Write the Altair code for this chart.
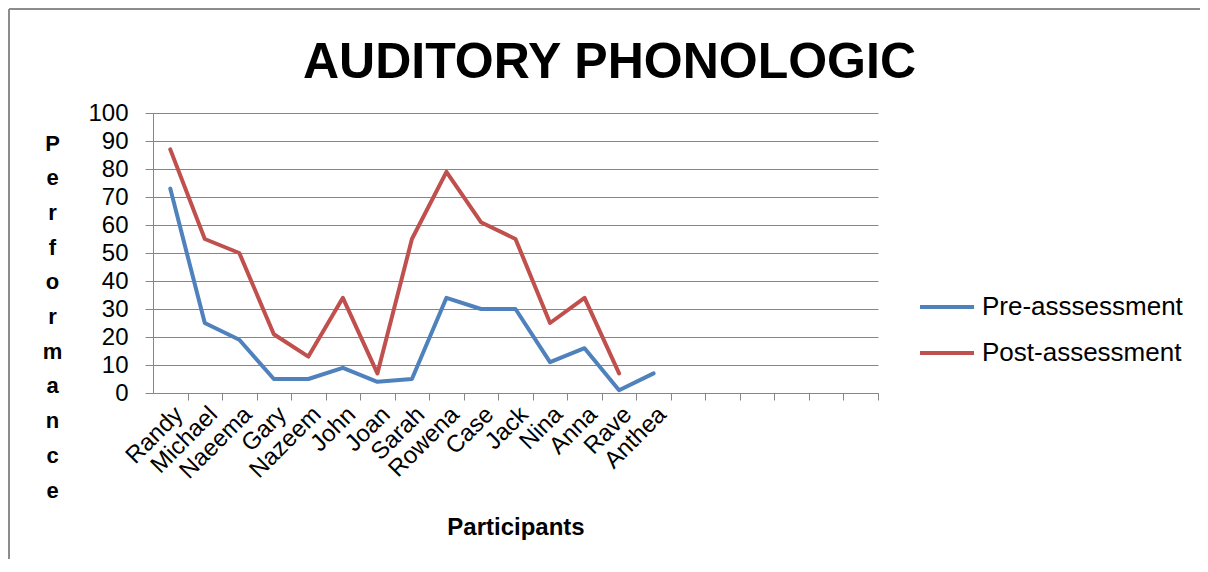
import altair as alt
import pandas as pd

participants = ["Randy", "Michael", "Naeema", "Gary", "Nazeem", "John", "Joan", "Sarah",
                "Rowena", "Case", "Jack", "Nina", "Anna", "Rave", "Anthea"]
empty_slots = ["_1", "_2", "_3", "_4", "_5", "_6"]
pre = [73, 25, 19, 5, 5, 9, 4, 5, 34, 30, 30, 11, 16, 1, 7]
post = [87, 55, 50, 21, 13, 34, 7, 55, 79, 61, 55, 25, 34, 7, None]
series_names = ["Pre-asssessment", "Post-assessment"]
series_colors = ["#4F81BD", "#C0504D"]
y_letters = list("Performance")

rows = []
for name, v in zip(participants, pre):
    rows.append({"participant": name, "series": series_names[0], "value": v})
for name, v in zip(participants, post):
    if v is not None:
        rows.append({"participant": name, "series": series_names[1], "value": v})
df = pd.DataFrame(rows)

domain = participants + empty_slots
FONT = "Liberation Sans"
W, H = 725, 280
PAD = {"left": 145, "top": 105, "right": 322, "bottom": 166}
step = W / len(domain)

lines = alt.Chart(df).mark_line(strokeWidth=4, strokeJoin="round", strokeCap="round").encode(
    x=alt.X("participant:N", sort=domain,
            scale=alt.Scale(domain=domain),
            axis=alt.Axis(title="Participants", labelAngle=-45, labelFontSize=24,
                          labelExpr="indexof(datum.value, '_') == 0 ? '' : datum.value",
                          tickSize=7, tickOffset=step / 2, labelOffset=-step / 2,
                          grid=False, labelPadding=2,
                          titleFontSize=24, titleFontWeight="bold",
                          titleX=W / 2, titleY=134, titleBaseline="middle")),
    y=alt.Y("value:Q", scale=alt.Scale(domain=[0, 100], nice=False),
            axis=alt.Axis(values=list(range(0, 101, 10)), title=y_letters,
                          titleAngle=0, titleLineHeight=34.7, titleFontSize=22,
                          titleFontWeight="bold", titleX=-101, titleY=30,
                          titleAlign="center", titleBaseline="middle",
                          labelFontSize=24, tickSize=8, labelPadding=17,
                          grid=True)),
    color=alt.Color("series:N", sort=series_names,
                    scale=alt.Scale(domain=series_names, range=series_colors),
                    legend=alt.Legend(title=None, orient="none", legendX=765, legendY=165,
                                      symbolType="stroke", symbolSize=2916,
                                      symbolStrokeWidth=4, labelFontSize=26,
                                      labelLimit=400, rowPadding=4, labelOffset=6,
                                      padding=0, labelFont=FONT))
)

frame_df = pd.DataFrame({"k": [0]})
top_edge = alt.Chart(frame_df).mark_rule(stroke="#8c8c8c", strokeWidth=2).encode(
    x=alt.value(-PAD["left"] + 1), x2=alt.value(W + PAD["right"]),
    y=alt.value(-PAD["top"] + 1),
)
left_edge = alt.Chart(frame_df).mark_rule(stroke="#8c8c8c", strokeWidth=2).encode(
    x=alt.value(-PAD["left"] + 1),
    y=alt.value(-PAD["top"] + 1), y2=alt.value(H + PAD["bottom"]),
)

chart = alt.layer(top_edge, left_edge, lines).properties(
    width=W, height=H,
    title=alt.TitleParams("AUDITORY PHONOLOGIC", fontSize=50, font=FONT,
                          fontWeight="bold", anchor="middle", frame="group",
                          dx=94, baseline="alphabetic", offset=-120, color="black"),
    autosize=alt.AutoSizeParams(type="none"),
    padding=PAD,
).configure_axis(
    labelFont=FONT, titleFont=FONT, labelColor="black", titleColor="black",
    domainColor="#868686", tickColor="#868686", gridColor="#868686",
).configure_view(stroke=None).configure_legend(labelColor="black")

chart.save("out.html", embed_options={"renderer": "svg", "actions": False})
